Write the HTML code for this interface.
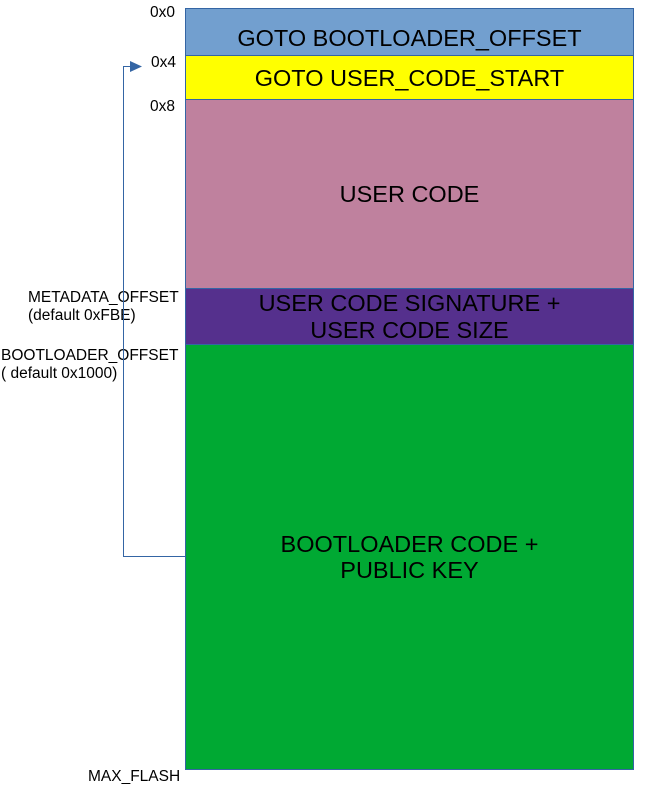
<!DOCTYPE html>
<html><head><style>
body{margin:0;width:645px;height:791px;background:#fff;position:relative;font-family:"Liberation Sans",sans-serif;overflow:hidden}
.b{position:absolute;left:185px;width:449px;box-sizing:border-box;border:1px solid #3465a4;display:flex;align-items:center;justify-content:center;text-align:center;font-size:23.5px;color:#000;line-height:26px}
.l{position:absolute;font-size:15.5px;color:#000;line-height:18px;white-space:nowrap}
</style></head><body>
<div class="b" style="top:8px;height:48px;background:#729fcf;padding-top:12px">GOTO BOOTLOADER_OFFSET</div>
<div class="b" style="top:55px;height:45px;background:#ffff00">GOTO USER_CODE_START</div>
<div class="b" style="top:99px;height:190px;background:#bf819e">USER CODE</div>
<div class="b" style="top:288px;height:57px;background:#55308d;line-height:27px">USER CODE SIGNATURE +<br>USER CODE SIZE</div>
<div class="b" style="top:344px;height:426px;background:#00a933">BOOTLOADER CODE +<br>PUBLIC KEY</div>
<div class="l" style="left:150px;top:4px">0x0</div>
<div class="l" style="left:151px;top:54px">0x4</div>
<div class="l" style="left:150px;top:98px">0x8</div>
<div class="l" style="left:28px;top:289px">METADATA_OFFSET<br>(default 0xFBE)</div>
<div class="l" style="left:1px;top:347px">BOOTLOADER_OFFSET<br>( default 0x1000)</div>
<div class="l" style="left:88px;top:768px">MAX_FLASH</div>
<svg style="position:absolute;left:0;top:0" width="645" height="791">
<polyline points="185,556.5 123.5,556.5 123.5,66.5 132,66.5" fill="none" stroke="#3465a4" stroke-width="1"/>
<polygon points="130,61 142,66.5 130,72" fill="#3465a4"/>
</svg>
</body></html>
